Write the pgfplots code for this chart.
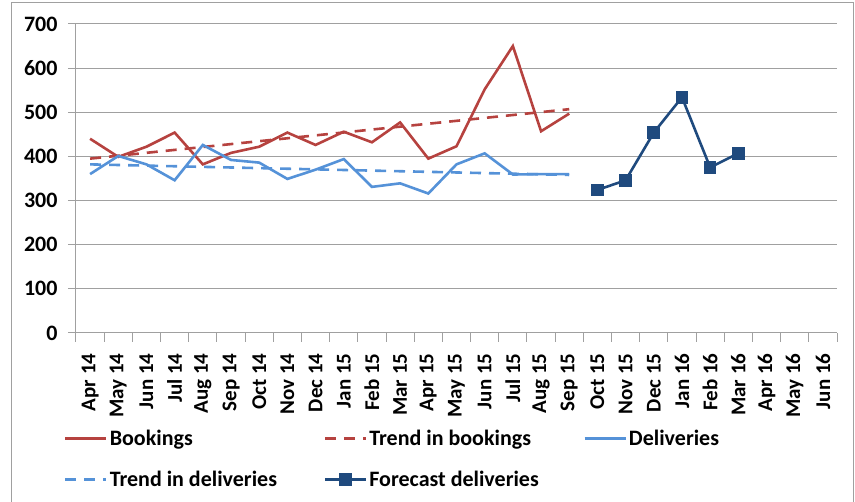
\documentclass[border=0pt]{standalone}
\usepackage{fontspec}
\setmainfont{Carlito}
\usepackage{pgfplots}
\pgfplotsset{compat=1.18}
\definecolor{bookred}{HTML}{B6423F}
\definecolor{delblue}{HTML}{5592D8}
\definecolor{fcnavy}{HTML}{1F4A7E}
\definecolor{gridgray}{HTML}{A0A0A0}
\begin{document}
\begin{tikzpicture}
\path[use as bounding box] (-76pt,-169pt) rectangle (779pt,333pt);
\draw[gridgray, line width=1pt] (-64pt,-170pt) -- (-64pt,330pt) -- (777pt,330pt) -- (777pt,-170pt);
\begin{axis}[
  scale only axis,
  width=761pt, height=309pt,
  xmin=-0.5, xmax=26.5,
  ymin=0, ymax=700,
  ytick={0,100,...,700},
  xtick={0,...,26},
  xticklabels={Apr 14,May 14,Jun 14,Jul 14,Aug 14,Sep 14,Oct 14,Nov 14,Dec 14,Jan 15,Feb 15,Mar 15,Apr 15,May 15,Jun 15,Jul 15,Aug 15,Sep 15,Oct 15,Nov 15,Dec 15,Jan 16,Feb 16,Mar 16,Apr 16,May 16,Jun 16},
  minor xtick={-0.5,0.5,...,26.5},
  axis lines*=left,
  axis line style={gridgray, line width=1pt},
  tick align=outside,
  major tick length=8pt,
  minor tick length=9pt,
  x tick style={draw=none},
  minor x tick style={draw=gridgray, line width=1pt},
  y tick style={gridgray, line width=1pt},
  ymajorgrids=true,
  grid style={gridgray, line width=1pt},
  /pgf/number format/assume math mode=true,
  yticklabel style={font=\fontsize{22}{24}\selectfont\bfseries, xshift=-7pt},
  xticklabel style={font=\fontsize{21}{23}\selectfont\bfseries, rotate=90, anchor=east, xshift=-9pt},
  legend style={at={(axis description cs:0,0)}, anchor=north west, xshift=-12pt, yshift=-95pt,
    draw=none, inner sep=0pt, legend columns=3,
    font=\fontsize{22}{24}\selectfont\bfseries,
    /tikz/every even column/.append style={column sep=0pt},
    row sep=20pt},
  legend cell align=left,
  legend image code/.code={\draw[#1, mark repeat=2, mark phase=2] plot coordinates {(0pt,0pt) (20.5pt,0pt) (41pt,0pt)};},
]
\addplot[bookred, line width=2.6pt] coordinates {
(0,440) (1,399) (2,422) (3,454) (4,382) (5,408) (6,422) (7,454) (8,426) (9,456)
(10,432) (11,477) (12,395) (13,423) (14,552) (15,650) (16,457) (17,497)};
\addlegendentry{\makebox[212pt][l]{Bookings}}
\addplot[bookred, line width=2.6pt, dash pattern=on 11pt off 8pt] coordinates {
(0,395) (17,507)};
\addlegendentry{\makebox[212pt][l]{Trend in bookings}}
\addplot[delblue, line width=2.6pt] coordinates {
(0,360) (1,401) (2,382) (3,346) (4,426) (5,392) (6,386) (7,349) (8,370) (9,394)
(10,331) (11,339) (12,316) (13,382) (14,407) (15,359) (16,360) (17,360)};
\addlegendentry{\makebox[212pt][l]{Deliveries}}
\addplot[delblue, line width=2.6pt, dash pattern=on 11pt off 8pt] coordinates {
(0,382) (17,358)};
\addlegendentry{\makebox[212pt][l]{Trend in deliveries}}
\addplot[fcnavy, line width=2.6pt, mark=square*, mark size=5pt, mark options={solid}] coordinates {
(18,324) (19,346) (20,454) (21,534) (22,375) (23,407)};
\addlegendentry{\makebox[212pt][l]{Forecast deliveries}}
\end{axis}
\end{tikzpicture}
\end{document}
